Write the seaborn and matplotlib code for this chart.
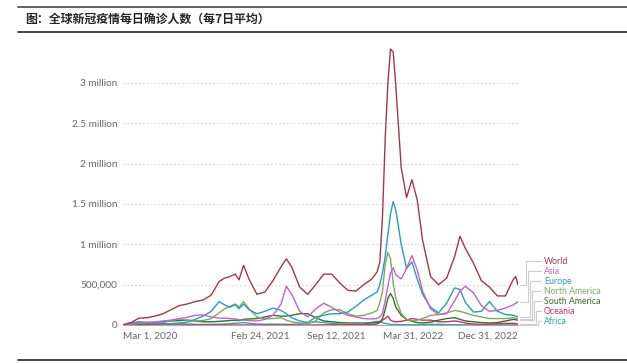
import pandas as pd
import numpy as np
import matplotlib
matplotlib.use("Agg")
import matplotlib.pyplot as plt
import matplotlib.ticker as mticker
from matplotlib.lines import Line2D
import seaborn as sns

# 7-day average daily confirmed cases, millions
dates = [
    "2020-03-01", "2020-03-22", "2020-04-12", "2020-05-03", "2020-05-24", "2020-06-14",
    "2020-07-05", "2020-07-26", "2020-08-16", "2020-09-06", "2020-09-27", "2020-10-18",
    "2020-11-08", "2020-11-22", "2020-12-06", "2020-12-20", "2020-12-30",
    "2021-01-11", "2021-01-25", "2021-02-15", "2021-03-08", "2021-03-29", "2021-04-19",
    "2021-05-03", "2021-05-17", "2021-06-07", "2021-06-28", "2021-07-19", "2021-08-09",
    "2021-08-30", "2021-09-20", "2021-10-11", "2021-11-01", "2021-11-22", "2021-12-13",
    "2021-12-27",
    "2022-01-03", "2022-01-10", "2022-01-17", "2022-01-24", "2022-01-31", "2022-02-07",
    "2022-02-14", "2022-02-28", "2022-03-14", "2022-03-28", "2022-04-11", "2022-04-25",
    "2022-05-16", "2022-06-06", "2022-06-27", "2022-07-18", "2022-08-01", "2022-08-15",
    "2022-09-05", "2022-09-26", "2022-10-17", "2022-11-07", "2022-11-28", "2022-12-19",
    "2022-12-25", "2022-12-31",
]

world = [
    0.003, 0.03, 0.085, 0.09, 0.11, 0.14, 0.19, 0.24, 0.26, 0.29, 0.31, 0.37, 0.54, 0.58, 0.60, 0.63, 0.56,
    0.74, 0.57, 0.38, 0.41, 0.55, 0.72, 0.82, 0.72, 0.47, 0.38, 0.50, 0.63, 0.63, 0.52, 0.43, 0.42, 0.50, 0.57, 0.66,
    0.78, 1.35, 2.30, 3.00, 3.42, 3.38, 2.95, 1.95, 1.58, 1.80, 1.55, 1.05, 0.60, 0.50, 0.58, 0.85, 1.10, 0.95,
    0.77, 0.55, 0.47, 0.36, 0.36, 0.57, 0.60, 0.50,
]
asia = [
    0.001, 0.008, 0.02, 0.03, 0.04, 0.05, 0.06, 0.08, 0.095, 0.12, 0.125, 0.10, 0.085, 0.085, 0.08, 0.075, 0.065,
    0.06, 0.055, 0.05, 0.07, 0.12, 0.26, 0.48, 0.38, 0.17, 0.10, 0.20, 0.27, 0.22, 0.16, 0.12, 0.10, 0.08, 0.075, 0.08,
    0.10, 0.15, 0.30, 0.48, 0.65, 0.71, 0.62, 0.57, 0.70, 0.86, 0.68, 0.42, 0.20, 0.13, 0.14, 0.30, 0.42, 0.48,
    0.40, 0.24, 0.17, 0.18, 0.21, 0.25, 0.27, 0.29,
]
europe = [
    0.002, 0.025, 0.04, 0.028, 0.02, 0.016, 0.017, 0.025, 0.035, 0.07, 0.11, 0.17, 0.29, 0.25, 0.22, 0.25, 0.20,
    0.26, 0.19, 0.14, 0.17, 0.21, 0.18, 0.14, 0.09, 0.05, 0.03, 0.10, 0.12, 0.14, 0.14, 0.16, 0.23, 0.31, 0.37, 0.41,
    0.50, 0.65, 0.85, 1.12, 1.38, 1.53, 1.42, 1.00, 0.70, 0.78, 0.57, 0.38, 0.22, 0.15, 0.27, 0.46, 0.44, 0.28,
    0.16, 0.17, 0.29, 0.17, 0.13, 0.12, 0.11, 0.10,
]
north_america = [
    0.0, 0.01, 0.035, 0.035, 0.03, 0.03, 0.055, 0.075, 0.06, 0.05, 0.055, 0.08, 0.15, 0.20, 0.23, 0.26, 0.22,
    0.29, 0.20, 0.10, 0.075, 0.08, 0.09, 0.06, 0.04, 0.025, 0.02, 0.05, 0.15, 0.19, 0.19, 0.14, 0.11, 0.12, 0.15, 0.18,
    0.28, 0.42, 0.75, 0.90, 0.82, 0.52, 0.33, 0.14, 0.07, 0.05, 0.06, 0.08, 0.12, 0.13, 0.15, 0.18, 0.17, 0.15,
    0.12, 0.10, 0.08, 0.08, 0.08, 0.09, 0.085, 0.07,
]
south_america = [
    0.0, 0.002, 0.01, 0.015, 0.03, 0.04, 0.05, 0.055, 0.06, 0.05, 0.04, 0.04, 0.045, 0.05, 0.055, 0.06, 0.055,
    0.07, 0.075, 0.08, 0.10, 0.12, 0.11, 0.11, 0.12, 0.14, 0.14, 0.09, 0.05, 0.04, 0.03, 0.025, 0.025, 0.025, 0.025, 0.03,
    0.04, 0.08, 0.19, 0.33, 0.39, 0.33, 0.22, 0.12, 0.07, 0.045, 0.03, 0.025, 0.035, 0.06, 0.08, 0.09, 0.07, 0.05,
    0.04, 0.03, 0.025, 0.03, 0.05, 0.07, 0.065, 0.06,
]
oceania = [
    0.0, 0.0005, 0.0003, 0.0001, 0.0001, 0.0001, 0.0003, 0.0006, 0.0004, 0.0002, 0.0001, 0.0001, 0.0001, 0.0001, 0.0001, 0.0001, 0.0001,
    0.0001, 0.0001, 0.0001, 0.0001, 0.0001, 0.0001, 0.0001, 0.0001, 0.0001, 0.0002, 0.0008, 0.002, 0.003, 0.003, 0.003, 0.003, 0.003, 0.004, 0.012,
    0.03, 0.06, 0.08, 0.11, 0.06, 0.045, 0.04, 0.045, 0.06, 0.08, 0.07, 0.06, 0.06, 0.04, 0.04, 0.05, 0.04, 0.025,
    0.012, 0.008, 0.01, 0.015, 0.02, 0.02, 0.017, 0.013,
]
africa = [
    0.0, 0.0003, 0.001, 0.003, 0.005, 0.01, 0.015, 0.018, 0.012, 0.008, 0.007, 0.008, 0.01, 0.012, 0.015, 0.022, 0.025,
    0.03, 0.022, 0.012, 0.01, 0.01, 0.01, 0.008, 0.008, 0.012, 0.025, 0.04, 0.03, 0.02, 0.012, 0.006, 0.004, 0.004, 0.035, 0.045,
    0.04, 0.03, 0.02, 0.012, 0.008, 0.006, 0.005, 0.004, 0.003, 0.003, 0.003, 0.004, 0.008, 0.008, 0.005, 0.004, 0.003, 0.002,
    0.002, 0.002, 0.002, 0.002, 0.002, 0.002, 0.002, 0.002,
]

regions = ["World", "Asia", "Europe", "North America", "South America", "Oceania", "Africa"]
series = [world, asia, europe, north_america, south_america, oceania, africa]
colors = ["#9E3A47", "#C462C8", "#2A9DB6", "#7FA865", "#3A6B2E", "#C8306C", "#2BA9A6"]

tick_dates = ["2020-03-01", "2021-02-24", "2021-09-12", "2022-03-31", "2022-12-31"]
tick_labels = ["Mar 1, 2020", "Feb 24, 2021", "Sep 12, 2021", "Mar 31, 2022", "Dec 31, 2022"]

# long-form frame for seaborn
df = pd.concat([
    pd.DataFrame({"date": pd.to_datetime(dates), "cases": vals, "region": name})
    for name, vals in zip(regions, series)
], ignore_index=True)

sns.set_style("white")
plt.rcParams["font.family"] = ["Lato", "DejaVu Sans"]

W, H = 627, 364
fig = plt.figure(figsize=(W / 100, H / 100), dpi=100)
x0, x1 = 123, 518
y0, ymax = 325, 3.5
ppm = 80.7  # pixels per million
ax = fig.add_axes([x0 / W, 1 - y0 / H, (x1 - x0) / W, ymax * ppm / H])

# draw World last so it sits on top
for name, col in reversed(list(zip(regions, colors))):
    sns.lineplot(data=df[df["region"] == name], x="date", y="cases", color=col,
                 linewidth=1.0, ax=ax, legend=False)

ax.set_xlim(pd.Timestamp("2020-03-01"), pd.Timestamp("2022-12-31"))
ax.set_ylim(0, ymax)
ax.set_xlabel("")
ax.set_ylabel("")

# y axis
ax.set_yticks([0, 0.5, 1, 1.5, 2, 2.5, 3])
def fmt(v, pos):
    if v == 0:
        return "0"
    if v < 1:
        return f"{int(round(v * 1e6)):,}"
    return f"{v:g} million"
ax.yaxis.set_major_formatter(mticker.FuncFormatter(fmt))
ax.tick_params(axis="y", length=0, pad=4, labelsize=7.2, labelcolor="#666666")
for v in [0.5, 1, 1.5, 2, 2.5, 3]:
    ax.axhline(v, color="#d9d9d9", lw=0.8, ls=(0, (1.5, 2)), zorder=0)

# x axis
ax.set_xticks(pd.to_datetime(tick_dates))
ax.set_xticklabels(tick_labels)
ax.tick_params(axis="x", length=3, width=0.8, color="#bbbbbb", pad=2,
               labelsize=7.2, labelcolor="#666666")
labels = ax.get_xticklabels()
labels[0].set_ha("left")
labels[-1].set_ha("right")

for s in ["top", "right", "left"]:
    ax.spines[s].set_visible(False)
ax.spines["bottom"].set_color("#aaaaaa")
ax.spines["bottom"].set_linewidth(0.8)

# right-side labels with elbow connectors
trans = matplotlib.transforms.blended_transform_factory(ax.transAxes, ax.transData)
px = 1 / (x1 - x0)
label_top, label_step = 0.79, 0.124
for i, (name, vals, col) in enumerate(zip(regions, series, colors)):
    ly = label_top - i * label_step
    mid = 1 + (8 + 2 * i) * px
    ax.plot([1 + 2 * px, mid, mid, 1 + 23 * px], [vals[-1], vals[-1], ly, ly],
            color="#cccccc", lw=0.8, transform=trans, clip_on=False)
    ax.text(1 + 26 * px, ly, name, color=col, fontsize=6.3, va="center", ha="left",
            transform=trans)

# header and rules
fig.add_artist(Line2D([18 / W, 1], [1 - 6.7 / H] * 2, color="#444444", lw=1.2))
fig.add_artist(Line2D([18 / W, 1], [1 - 31.5 / H] * 2, color="#444444", lw=1.4))
fig.add_artist(Line2D([18 / W, 1], [1 - 360 / H] * 2, color="#444444", lw=1.4))
fig.text(25 / W, 1 - 19 / H, "图：全球新冠疫情每日确诊人数（每7日平均）",
         fontsize=8.6, fontweight="bold", va="center", ha="left",
         family=["Noto Sans CJK SC", "DejaVu Sans"])

fig.savefig("out.png", dpi=100)
